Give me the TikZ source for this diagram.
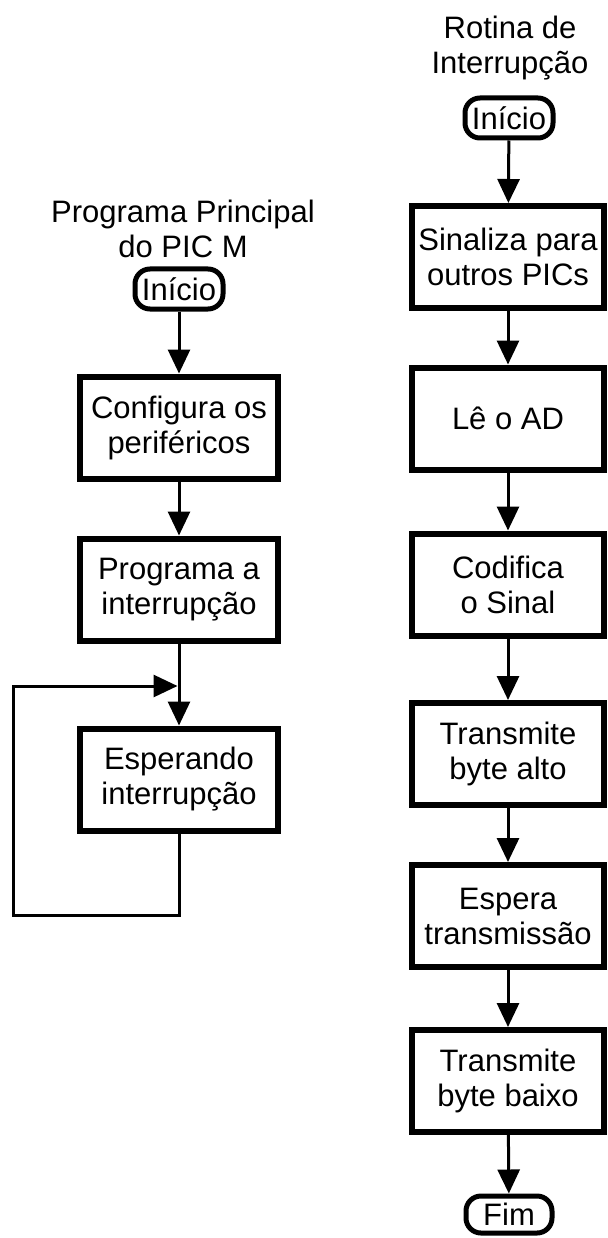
\documentclass[tikz,border=0pt]{standalone}
\usepackage{fontspec}
\setmainfont{Liberation Sans}
\usetikzlibrary{arrows.meta}
\tikzset{
  proc/.style={draw,line width=6pt,minimum width=198pt,minimum height=102pt,align=center,inner sep=0pt},
  term/.style={draw,line width=5pt,rounded corners=15pt,minimum width=88pt,minimum height=40pt,inner sep=0pt},
  flow/.style={line width=3pt,-{Triangle[width=22pt,length=24pt]}},
  title/.style={align=center,inner sep=0pt}
}
\begin{document}
\begin{tikzpicture}[x=1pt,y=-1pt,font=\fontsize{31}{35}\selectfont]
\useasboundingbox (0,0) rectangle (607,1238);
% programa principal
\node[title] (titP) at (183,229) {Programa Principal\\do PIC M};
\node[term] (iniP) at (179,289) {Início};
\node[proc] (conf) at (179,427.5) {Configura os\\periféricos};
\node[proc] (prog) at (179,589.5) {Programa a\\interrupção};
\node[proc] (esp) at (179,779.5) {Esperando\\interrupção};
\coordinate (join) at (179,686);
\coordinate (loopA) at (179,915);
\coordinate (loopB) at (13,915);
\coordinate (loopC) at (13,686);
\draw[flow] (iniP) -- (conf);
\draw[flow] (conf) -- (prog);
\draw[flow] (prog) -- (esp);
\draw[flow,shorten >=1.5pt] (esp.south) -- (loopA) -- (loopB) -- (loopC) -- (join);
% rotina de interrupcao
\node[title] (titR) at (510,48) {Rotina de\\Interrupção};
\node[term] (iniR) at (509,118) {Início};
\node[proc,minimum width=192pt] (sin) at (508,257) {Sinaliza para\\outros PICs};
\node[proc,minimum width=192pt] (le) at (508,418.5) {Lê o AD};
\node[proc,minimum width=192pt] (cod) at (508,584.5) {Codifica\\o Sinal};
\node[proc,minimum width=192pt] (talto) at (508,754) {Transmite\\byte alto};
\node[proc,minimum width=192pt] (etx) at (508,916) {Espera\\transmissão};
\node[proc,minimum width=192pt] (tbaixo) at (508,1081) {Transmite\\byte baixo};
\node[term,minimum width=86pt,minimum height=37pt] (fim) at (509,1214.5) {Fim};
\draw[flow] (iniR) -- (sin);
\draw[flow] (sin) -- (le);
\draw[flow] (le) -- (cod);
\draw[flow] (cod) -- (talto);
\draw[flow] (talto) -- (etx);
\draw[flow] (etx) -- (tbaixo);
\draw[flow] (tbaixo) -- (fim);
\end{tikzpicture}
\end{document}
